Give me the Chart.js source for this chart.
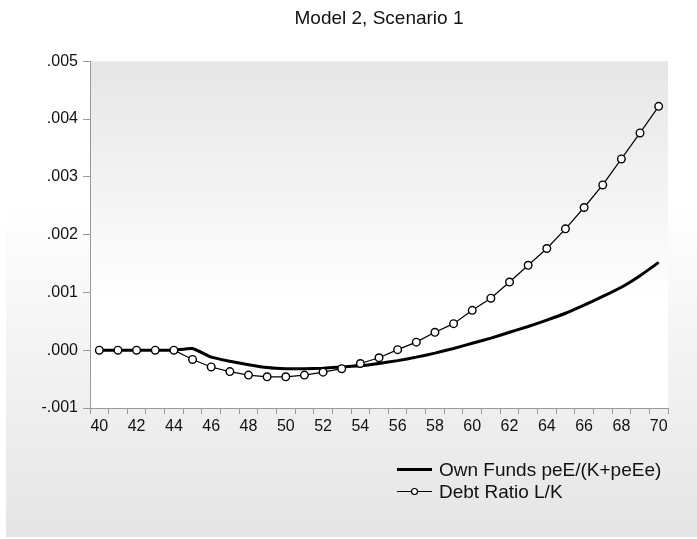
<!DOCTYPE html>
<html><head><meta charset="utf-8">
<script src="https://cdn.jsdelivr.net/npm/chart.js@4"></script>
<style>html,body{margin:0;padding:0;background:#fff}#wrap{width:697px;height:539px}</style>
</head><body><div id="wrap"><canvas id="c" width="697" height="539"></canvas></div>
<script>
// ---- data ----
const chartTitle = 'Model 2, Scenario 1';
const years = ['40','41','42','43','44','45','46','47','48','49','50','51','52','53','54','55',
               '56','57','58','59','60','61','62','63','64','65','66','67','68','69','70'];
const ownFundsLabel = 'Own Funds peE/(K+peEe)';
const debtRatioLabel = 'Debt Ratio L/K';
const ownFunds = [0,0,0,0,0,0.00003,-0.00012,-0.00019,-0.00025,-0.00030,-0.00032,-0.00032,-0.00031,-0.00029,-0.00027,
                  -0.00023,-0.00018,-0.00012,-0.00005,0.00003,0.00012,0.00021,0.00031,0.00041,0.00052,0.00064,0.00078,
                  0.00093,0.00109,0.00129,0.00152];
const debtRatio = [0,0,0,0,0,-0.00016,-0.00029,-0.00037,-0.00043,-0.00046,-0.00046,-0.00043,-0.00038,-0.00032,-0.00023,
                   -0.00013,0.00001,0.00014,0.00031,0.00046,0.00069,0.00090,0.00118,0.00147,0.00176,0.00210,0.00247,
                   0.00286,0.00331,0.00376,0.00422];
const yMin = -0.001, yMax = 0.005, yStep = 0.001;

// ---- styling ----
const FONT = '"Liberation Sans", Arial, sans-serif';
const AXIS = '#9a9a9a';

const bgPlugin = {
  id: 'bg',
  beforeDraw(chart) {
    const ctx = chart.ctx, a = chart.chartArea, W = chart.width, H = chart.height;
    ctx.save();
    ctx.fillStyle = '#ffffff';
    ctx.fillRect(0, 0, W, H);
    let g = ctx.createLinearGradient(0, 200, 0, H - 2);
    g.addColorStop(0, '#ffffff');
    g.addColorStop(1, '#e5e5e5');
    ctx.fillStyle = g;
    ctx.fillRect(6, 0, W - 6, H - 2);
    g = ctx.createLinearGradient(0, a.top, 0, a.top + 240);
    g.addColorStop(0, '#e6e6e6');
    g.addColorStop(1, '#ffffff');
    ctx.fillStyle = g;
    ctx.fillRect(a.left, a.top, a.right - a.left, a.bottom - a.top);
    ctx.restore();
  }
};

const legendPlugin = {
  id: 'customLegend',
  afterDraw(chart) {
    const ctx = chart.ctx, a = chart.chartArea;
    const x0 = a.right - 271, x1 = a.right - 236, tx = a.right - 229;
    const rows = [a.bottom + 61.5, a.bottom + 83.5];
    ctx.save();
    ctx.font = '19px ' + FONT;
    ctx.textBaseline = 'middle';
    ctx.textAlign = 'left';
    ctx.fillStyle = '#111';
    chart.data.datasets.forEach((ds, i) => {
      const y = rows[i];
      ctx.strokeStyle = '#000';
      ctx.lineWidth = ds.borderWidth;
      ctx.beginPath(); ctx.moveTo(x0, y); ctx.lineTo(x1, y); ctx.stroke();
      if (ds.pointRadius > 0) {
        ctx.beginPath(); ctx.arc((x0 + x1) / 2, y, 3, 0, Math.PI * 2);
        ctx.fillStyle = '#fff'; ctx.fill();
        ctx.lineWidth = 1.2; ctx.stroke();
        ctx.fillStyle = '#111';
      }
      ctx.fillText(ds.label, tx, y + 1);
    });
    ctx.restore();
  }
};

new Chart(document.getElementById('c'), {
  type: 'line',
  data: {
    labels: years,
    datasets: [
      { label: ownFundsLabel, data: ownFunds, borderColor: '#000', borderWidth: 3, pointRadius: 0,
        tension: 0.15, order: 1 },
      { label: debtRatioLabel, data: debtRatio, borderColor: '#000', borderWidth: 1.2, pointRadius: 3.8,
        pointBorderWidth: 1.4, pointBackgroundColor: '#fff', pointBorderColor: '#000', tension: 0, order: 0 }
    ]
  },
  options: {
    responsive: false,
    animation: false,
    devicePixelRatio: 1,
    layout: { padding: { left: 0, right: 29, top: 0, bottom: 91 } },
    plugins: {
      legend: { display: false },
      tooltip: { enabled: false },
      title: { display: true, text: chartTitle, fullSize: false, color: '#111',
               font: { family: FONT, size: 19, weight: 'normal' }, padding: { top: 7, bottom: 31.5 } }
    },
    scales: {
      x: {
        type: 'category', offset: true,
        grid: { display: true, drawOnChartArea: false, drawTicks: true, tickLength: 6, color: AXIS, offset: true },
        border: { display: true, color: AXIS, width: 1 },
        ticks: { autoSkip: false, maxRotation: 0, padding: 3, color: '#111', font: { family: FONT, size: 16 },
                 callback(v, i) { const l = this.getLabelForValue(v); return (Number(l) % 2 === 0) ? l : ''; } },
        afterFit(s) { s.height = 40; }
      },
      y: {
        min: yMin, max: yMax,
        grid: { display: true, drawOnChartArea: false, drawTicks: true, tickLength: 7, color: AXIS },
        border: { display: true, color: AXIS, width: 1 },
        ticks: { stepSize: yStep, padding: 5, color: '#111', font: { family: FONT, size: 16 },
                 callback(v) { return v.toFixed(3).replace('0.', '.'); } },
        afterFit(s) { s.width = 90; }
      }
    }
  },
  plugins: [bgPlugin, legendPlugin]
});
</script>
</body></html>
